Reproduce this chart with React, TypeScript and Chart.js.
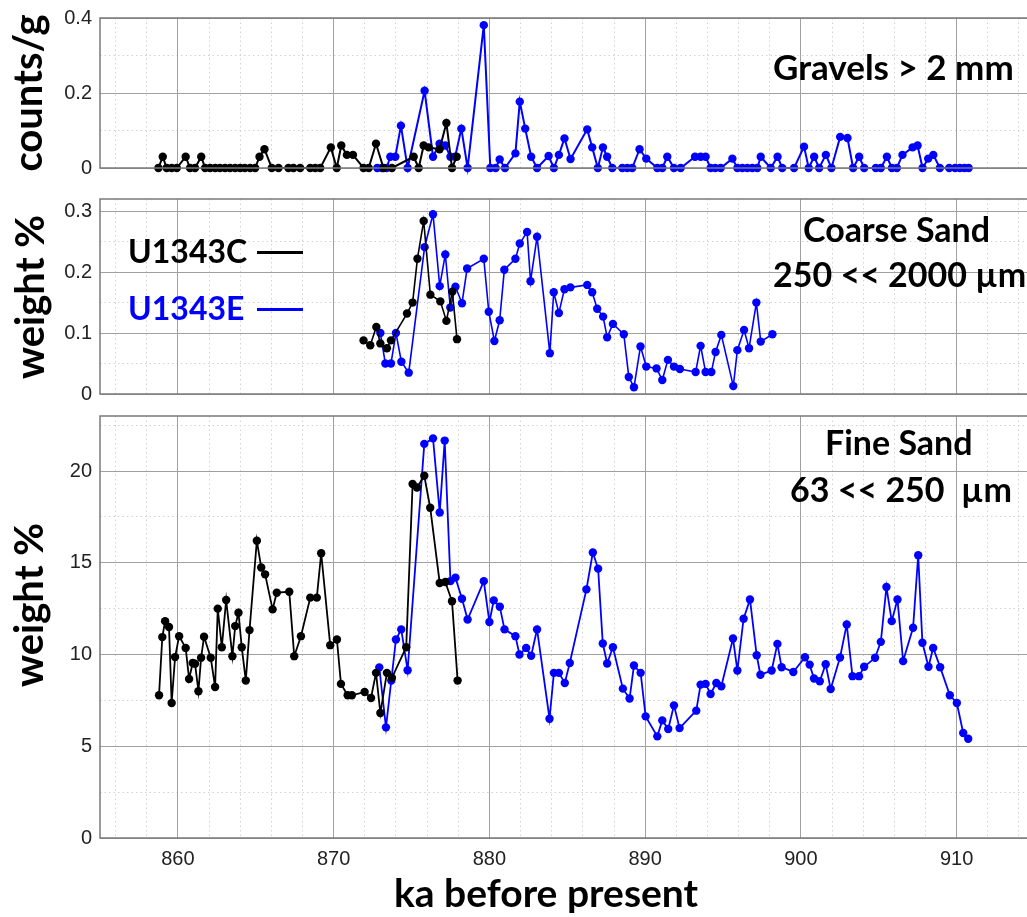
import React, { useEffect, useRef } from "react";
import { Chart, registerables } from "chart.js";
Chart.register(...registerables);

// ---------- axis settings ----------
const X_MIN = 855;
const X_MAX = 914.9;
const X_STEP = 2;
const X_MAJOR = 10;

// ---------- Gravels > 2 mm (counts/g) ----------
const gravelAgeC = [858.75, 859.03, 859.28, 859.6, 859.93, 860.5, 860.78, 861.1, 861.5, 861.75, 862.07, 862.4, 862.7, 863.03, 863.35, 863.68, 864.0, 864.3, 864.64, 864.96, 865.24, 865.56, 866.03, 866.46, 867.1, 867.42, 867.85, 868.5, 868.82, 869.14, 869.82, 870.2, 870.49, 870.85, 871.24, 871.92, 872.25, 872.72, 873.2, 873.74, 875.14, 875.46, 875.78, 876.1, 876.8, 877.24, 877.6, 877.9];
const gravelC = [0, 0.03, 0, 0, 0, 0.03, 0, 0, 0.03, 0, 0, 0, 0, 0, 0, 0, 0, 0, 0, 0, 0.03, 0.05, 0, 0, 0, 0, 0, 0, 0, 0, 0.055, 0, 0.06, 0.035, 0.035, 0, 0, 0.065, 0, 0, 0.03, 0, 0.06, 0.055, 0.05, 0.12, 0, 0.03];
const gravelAgeE = [872.8, 873.1, 873.4, 873.64, 873.96, 874.32, 874.75, 875.84, 876.38, 876.8, 877.17, 877.5, 877.8, 878.2, 878.6, 879.64, 880.06, 880.4, 880.66, 881.0, 881.67, 881.95, 882.3, 882.68, 883.06, 883.8, 884.14, 884.46, 884.82, 885.21, 886.28, 886.6, 886.96, 887.29, 887.56, 887.89, 888.53, 888.85, 889.17, 889.64, 890.07, 890.78, 891.1, 891.42, 891.85, 892.28, 893.2, 893.56, 893.88, 894.2, 894.5, 894.85, 895.6, 895.92, 896.24, 896.56, 896.88, 897.2, 897.42, 898.06, 898.5, 898.8, 899.56, 900.2, 900.5, 900.85, 901.17, 901.6, 901.96, 902.52, 902.99, 903.35, 903.74, 904.06, 904.81, 905.13, 905.52, 905.84, 906.16, 906.52, 907.17, 907.49, 907.81, 908.17, 908.5, 908.92, 909.52, 909.9, 910.21, 910.5, 910.77];
const gravelE = [0, 0, 0, 0.03, 0.03, 0.113, 0, 0.206, 0.03, 0.065, 0.06, 0.03, 0.03, 0.105, 0, 0.381, 0, 0, 0.023, 0, 0.039, 0.177, 0.105, 0.03, 0, 0.032, 0, 0.035, 0.079, 0.024, 0.103, 0.055, 0, 0.055, 0.03, 0, 0, 0, 0, 0.05, 0.025, 0, 0, 0.03, 0, 0, 0.03, 0.03, 0.03, 0, 0, 0, 0.025, 0, 0, 0, 0, 0, 0.03, 0, 0.03, 0, 0, 0.057, 0, 0.03, 0, 0.035, 0, 0.083, 0.08, 0, 0.03, 0, 0, 0, 0.03, 0, 0, 0.035, 0.055, 0.06, 0, 0.025, 0.035, 0, 0, 0, 0, 0, 0];

// ---------- Coarse Sand 250 << 2000 µm (weight %) ----------
const coarseAgeC = [871.92, 872.35, 872.74, 873.0, 873.42, 873.68, 874.71, 875.07, 875.38, 875.78, 876.21, 876.85, 877.24, 877.62, 877.92];
const coarseC = [0.088, 0.08, 0.11, 0.083, 0.075, 0.088, 0.132, 0.15, 0.222, 0.284, 0.163, 0.152, 0.12, 0.168, 0.09];
const coarseAgeE = [873.0, 873.32, 873.68, 874.0, 874.35, 874.82, 875.84, 876.38, 876.81, 877.17, 877.49, 877.82, 878.24, 878.57, 879.64, 879.96, 880.32, 880.66, 880.96, 881.67, 881.95, 882.42, 882.64, 883.06, 883.88, 884.13, 884.46, 884.82, 885.2, 886.28, 886.6, 886.92, 887.3, 887.56, 887.93, 888.63, 888.95, 889.28, 889.7, 890.07, 890.73, 891.1, 891.46, 891.85, 892.23, 893.24, 893.56, 893.88, 894.25, 894.52, 894.89, 895.66, 895.92, 896.35, 896.67, 897.14, 897.42, 898.17];
const coarseE = [0.1, 0.05, 0.05, 0.1, 0.053, 0.035, 0.241, 0.295, 0.177, 0.229, 0.142, 0.176, 0.149, 0.206, 0.222, 0.135, 0.087, 0.121, 0.204, 0.222, 0.247, 0.266, 0.185, 0.258, 0.067, 0.167, 0.133, 0.172, 0.175, 0.179, 0.167, 0.14, 0.127, 0.093, 0.115, 0.098, 0.028, 0.011, 0.078, 0.045, 0.042, 0.023, 0.056, 0.045, 0.041, 0.036, 0.079, 0.036, 0.036, 0.069, 0.097, 0.013, 0.072, 0.105, 0.075, 0.15, 0.086, 0.098];

// ---------- Fine Sand 63 << 250 µm (weight %) ----------
const fineAgeC = [858.79, 859.0, 859.18, 859.43, 859.6, 859.82, 860.08, 860.5, 860.72, 860.95, 861.1, 861.32, 861.49, 861.68, 862.11, 862.39, 862.56, 862.82, 863.1, 863.5, 863.68, 863.89, 864.1, 864.36, 864.6, 865.07, 865.35, 865.6, 866.08, 866.35, 867.15, 867.47, 867.9, 868.5, 868.92, 869.2, 869.78, 870.21, 870.47, 870.9, 871.17, 871.99, 872.4, 872.72, 873.0, 873.42, 873.74, 874.66, 875.07, 875.35, 875.82, 876.2, 876.81, 877.17, 877.6, 877.96];
const fineC = [7.78, 10.95, 11.82, 11.5, 7.36, 9.86, 11.0, 10.36, 8.67, 9.54, 9.5, 8.0, 9.82, 10.97, 9.82, 8.23, 12.5, 10.4, 12.97, 9.91, 11.55, 12.28, 10.4, 8.58, 11.33, 16.2, 14.74, 14.37, 12.46, 13.37, 13.42, 9.91, 11.0, 13.1, 13.1, 15.52, 10.51, 10.82, 8.4, 7.78, 7.78, 7.96, 7.63, 9.0, 6.81, 9.0, 8.73, 10.4, 19.29, 19.1, 19.74, 18.0, 13.9, 13.95, 12.9, 8.58];
const fineAgeE = [872.93, 873.36, 873.7, 874.0, 874.34, 874.75, 875.82, 876.38, 876.81, 877.13, 877.5, 877.82, 878.24, 878.6, 879.64, 880.0, 880.28, 880.67, 880.97, 881.67, 881.93, 882.36, 882.68, 883.06, 883.86, 884.14, 884.46, 884.84, 885.16, 886.23, 886.64, 886.98, 887.28, 887.56, 887.93, 888.57, 889.0, 889.28, 889.71, 890.03, 890.78, 891.1, 891.48, 891.85, 892.21, 893.28, 893.56, 893.88, 894.2, 894.57, 894.89, 895.64, 895.92, 896.32, 896.73, 897.16, 897.4, 898.12, 898.49, 898.76, 899.51, 900.26, 900.56, 900.84, 901.21, 901.59, 901.91, 902.51, 902.94, 903.31, 903.73, 904.06, 904.76, 905.13, 905.49, 905.83, 906.2, 906.56, 907.2, 907.53, 907.8, 908.19, 908.49, 908.94, 909.56, 910.01, 910.42, 910.74];
const fineE = [9.3, 6.03, 8.58, 10.82, 11.37, 9.14, 21.48, 21.78, 17.74, 21.66, 14.0, 14.19, 13.04, 11.91, 14.0, 11.77, 12.95, 12.6, 11.37, 11.0, 10.0, 10.36, 9.93, 11.37, 6.5, 9.0, 9.0, 8.45, 9.54, 13.55, 15.56, 14.68, 10.6, 9.51, 10.4, 8.14, 7.6, 9.4, 9.0, 6.63, 5.54, 6.41, 5.94, 7.23, 5.99, 6.94, 8.36, 8.4, 7.85, 8.45, 8.27, 10.87, 9.13, 11.95, 13.0, 9.96, 8.9, 9.13, 10.58, 9.31, 9.05, 9.85, 9.45, 8.69, 8.54, 9.47, 8.12, 9.84, 11.64, 8.82, 8.82, 9.33, 9.82, 10.69, 13.68, 11.82, 13.0, 9.64, 11.46, 15.41, 10.64, 9.33, 10.36, 9.31, 7.78, 7.36, 5.72, 5.41];

// ---------- y axis settings per panel ----------
const gravelY = { min: 0, max: 0.4, step: 0.1, major: 0.2, dec: 1 };
const coarseY = { min: 0, max: 0.32, step: 0.05, major: 0.1, dec: 1 };
const fineY = { min: 0, max: 23, step: 2.5, major: 5, dec: 0 };

const seriesNames = ["U1343C", "U1343E"];
const seriesColors = ["#000000", "#0000ff"];

const TICK_FONT = { family: "'Liberation Sans', Arial, sans-serif", size: 20 };
const TICK_COLOR = "#222222";
const MAJOR_GRID = "#a0a0a0";
const MINOR_GRID = "#d2d2d2";
const CANVAS_W = 1040;

const isMult = (v: number, m: number) => Math.abs(v / m - Math.round(v / m)) < 1e-6;

const zip = (xs: number[], ys: number[]) => xs.map((x, i) => ({ x, y: ys[i] }));

const boxPlugin = {
  id: "box",
  afterDraw(chart: any) {
    const { ctx, chartArea: a } = chart;
    ctx.save();
    ctx.strokeStyle = "#7a7a7a";
    ctx.lineWidth = 1.5;
    ctx.strokeRect(a.left, a.top, a.right - a.left, a.bottom - a.top);
    ctx.restore();
  },
};

type YCfg = { min: number; max: number; step: number; major: number; dec: number };
type PanelCfg = {
  top: number;
  height: number;
  padTop: number;
  xH: number;
  showX: boolean;
  y: YCfg;
  agesC: number[];
  valsC: number[];
  agesE: number[];
  valsE: number[];
  lw: number;
};

const zeroFit = (h: number | null, w: number | null) => (s: any) => {
  if (h !== null) s.height = h;
  if (w !== null) s.width = w;
  s.paddingLeft = 0;
  s.paddingRight = 0;
  s.paddingTop = 0;
  s.paddingBottom = 0;
};

function Panel({ cfg }: { cfg: PanelCfg }) {
  const ref = useRef<HTMLCanvasElement>(null);
  useEffect(() => {
    const ds = (i: number, xs: number[], ys: number[]) => ({
      label: seriesNames[i],
      data: zip(xs, ys),
      borderColor: seriesColors[i],
      backgroundColor: seriesColors[i],
      pointBackgroundColor: seriesColors[i],
      pointBorderColor: seriesColors[i],
      pointBorderWidth: 0,
      pointRadius: 4.2,
      borderWidth: cfg.lw,
      tension: 0,
      clip: false as any,
      xAxisID: "x",
      yAxisID: "y",
    });
    const minorColor = (major: number) => (c: any) => {
      const v = c.tick ? c.tick.value : 0;
      return isMult(v, major) ? "rgba(0,0,0,0)" : MINOR_GRID;
    };
    const chart = new Chart(ref.current!, {
      type: "line",
      data: {
        datasets: [ds(0, cfg.agesC, cfg.valsC), ds(1, cfg.agesE, cfg.valsE)],
      },
      options: {
        responsive: false,
        animation: false,
        devicePixelRatio: 1,
        layout: { padding: { top: cfg.padTop, right: 7, left: 0, bottom: 0 } },
        plugins: { legend: { display: false }, tooltip: { enabled: false } },
        scales: {
          xMinor: {
            type: "linear",
            position: "bottom",
            min: X_MIN,
            max: X_MAX,
            border: { display: false, dash: [1.5, 3] },
            grid: { drawTicks: false, lineWidth: 1, color: minorColor(X_MAJOR) },
            ticks: { display: false, stepSize: X_STEP, autoSkip: false, includeBounds: false },
            afterFit: zeroFit(0, null),
          },
          yMinor: {
            type: "linear",
            position: "left",
            min: cfg.y.min,
            max: cfg.y.max,
            border: { display: false, dash: [1.5, 3] },
            grid: { drawTicks: false, lineWidth: 1, color: minorColor(cfg.y.major) },
            ticks: { display: false, stepSize: cfg.y.step, autoSkip: false, includeBounds: false },
            afterFit: zeroFit(null, 0),
          },
          x: {
            type: "linear",
            position: "bottom",
            min: X_MIN,
            max: X_MAX,
            border: { display: false },
            grid: { drawTicks: false, lineWidth: 1, color: MAJOR_GRID },
            ticks: {
              display: cfg.showX,
              stepSize: X_MAJOR,
              autoSkip: false,
              includeBounds: false,
              maxRotation: 0,
              padding: 9,
              font: TICK_FONT,
              color: TICK_COLOR,
              callback: (v: any) => String(Math.round(Number(v))),
            },
            afterFit: zeroFit(cfg.xH, null),
          },
          y: {
            type: "linear",
            position: "left",
            min: cfg.y.min,
            max: cfg.y.max,
            border: { display: false },
            grid: { drawTicks: false, lineWidth: 1, color: MAJOR_GRID },
            ticks: {
              stepSize: cfg.y.major,
              autoSkip: false,
              includeBounds: false,
              padding: 8,
              font: TICK_FONT,
              color: TICK_COLOR,
              callback: (v: any) => {
                const n = Number(v);
                return n === 0 ? "0" : n.toFixed(cfg.y.dec);
              },
            },
            afterFit: zeroFit(null, 100),
          },
        },
      },
      plugins: [boxPlugin],
    } as any);
    return () => chart.destroy();
  }, []);
  return (
    <canvas
      ref={ref}
      width={CANVAS_W}
      height={cfg.height}
      style={{ position: "absolute", left: 0, top: cfg.top, width: CANVAS_W, height: cfg.height }}
    />
  );
}

const panels: PanelCfg[] = [
  { top: 0, height: 180, padTop: 18, xH: 12, showX: false, y: gravelY, agesC: gravelAgeC, valsC: gravelC, agesE: gravelAgeE, valsE: gravelE, lw: 2 },
  { top: 180, height: 226, padTop: 19, xH: 12, showX: false, y: coarseY, agesC: coarseAgeC, valsC: coarseC, agesE: coarseAgeE, valsE: coarseE, lw: 1.6 },
  { top: 400, height: 480, padTop: 16, xH: 42, showX: true, y: fineY, agesC: fineAgeC, valsC: fineC, agesE: fineAgeE, valsE: fineE, lw: 1.8 },
];

const LATO = "Lato, 'Open Sans', sans-serif";
const BASE = 0.887; // baseline offset in em for line-height 1

function Txt({ text, x, baseline, size, color = "#000" }: { text: string; x: number; baseline: number; size: number; color?: string }) {
  return (
    <div
      style={{
        position: "absolute",
        left: x,
        top: baseline - BASE * size,
        fontFamily: LATO,
        fontWeight: 700,
        fontSize: size,
        lineHeight: 1,
        whiteSpace: "pre",
        color,
      }}
    >
      {text}
    </div>
  );
}

function YLabel({ text, cx, cy }: { text: string; cx: number; cy: number }) {
  return (
    <div
      style={{
        position: "absolute",
        left: cx,
        top: cy,
        transform: "translate(-50%, -50%) rotate(-90deg)",
        fontFamily: LATO,
        fontWeight: 700,
        fontSize: 40,
        lineHeight: 1,
        whiteSpace: "nowrap",
        color: "#000",
      }}
    >
      {text}
    </div>
  );
}

function LegendLine({ x, y, color }: { x: number; y: number; color: string }) {
  return <div style={{ position: "absolute", left: x, top: y - 1, width: 46, height: 2.5, background: color }} />;
}

export default function App() {
  return (
    <div style={{ position: "absolute", left: 0, top: 0, width: 1027, height: 917, overflow: "hidden", background: "#fff" }}>
      {panels.map((p, i) => (
        <Panel key={i} cfg={p} />
      ))}
      <YLabel text="counts/g" cx={27} cy={93} />
      <YLabel text="weight %" cx={29} cy={297} />
      <YLabel text="weight %" cx={28} cy={605} />
      <Txt text="Gravels > 2 mm" x={773} baseline={80} size={35} />
      <Txt text="Coarse Sand" x={803} baseline={242} size={34} />
      <Txt text="250 << 2000 µm" x={773} baseline={287} size={34} />
      <Txt text="Fine Sand" x={825} baseline={455} size={34} />
      <Txt text="63 << 250  µm" x={790} baseline={502} size={34} />
      <Txt text={seriesNames[0]} x={128} baseline={263} size={32} color={seriesColors[0]} />
      <LegendLine x={257} y={252} color={seriesColors[0]} />
      <Txt text={seriesNames[1]} x={128} baseline={320} size={32} color={seriesColors[1]} />
      <LegendLine x={257} y={309} color={seriesColors[1]} />
      <Txt text="ka before present" x={394} baseline={908} size={39} />
    </div>
  );
}
